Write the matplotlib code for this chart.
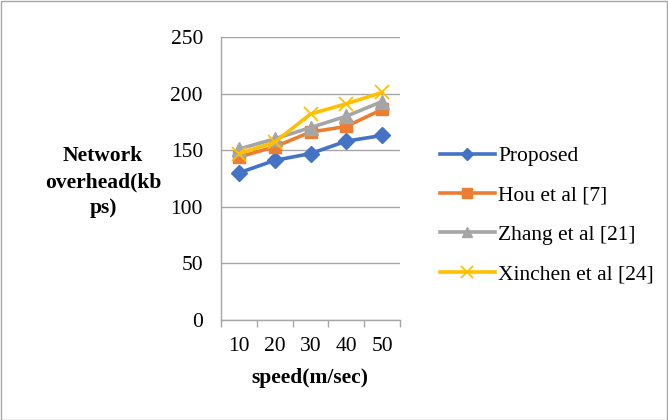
import matplotlib
matplotlib.use("Agg")
import matplotlib.pyplot as plt
from matplotlib.patches import Rectangle

categories = ["10", "20", "30", "40", "50"]
proposed = [130, 141, 147, 158, 163]
hou = [144, 153, 166, 171, 186]
zhang = [151, 160, 170, 180, 193]
xinchen = [147, 157, 182, 191, 201]
series_names = ["Proposed", "Hou et al [7]", "Zhang et al [21]", "Xinchen et al [24]"]
yticks = [0, 50, 100, 150, 200, 250]

plt.rcParams['font.family'] = ['Liberation Serif', 'DejaVu Serif']
FS = 15.5

fig = plt.figure(figsize=(6.68, 4.2), dpi=100)
W, H = 668, 420
ax = fig.add_axes([221 / W, 1 - 320 / H, (400 - 221) / W, (320 - 37) / H])

x = list(range(len(categories)))
styles = [
    (proposed, "#4472C4", "D", 8),
    (hou, "#ED7D31", "s", 8.5),
    (zhang, "#A5A5A5", "^", 9.5),
    (xinchen, "#FFC000", "x", 10),
]
handles = []
for (vals, col, mk, ms), name in zip(styles, series_names):
    ln, = ax.plot(x, vals, color=col, lw=2.6, marker=mk, markersize=ms,
                  markeredgewidth=1.3 if mk == "x" else 1, markeredgecolor=col,
                  markerfacecolor=col, label=name, zorder=3)
    handles.append(ln)

ax.set_xlim(-0.5, len(categories) - 0.5)
ax.set_ylim(0, 250)
ax.set_yticks(yticks)
ax.set_yticklabels([str(v) for v in yticks], fontsize=FS)
ax.set_xticks(x)
ax.set_xticklabels(categories, fontsize=FS)
ax.tick_params(axis='x', length=0, pad=12)
ax.set_xticks([i - 0.5 for i in range(len(categories) + 1)], minor=True)
ax.tick_params(axis='x', which='minor', length=5, color='#A6A6A6', width=1)
ax.tick_params(axis='y', length=0, pad=13)
ax.yaxis.grid(True, color='#A6A6A6', lw=1)
ax.set_axisbelow(True)
for s in ['top', 'right']:
    ax.spines[s].set_visible(False)
ax.spines['left'].set_color('#A6A6A6')
ax.spines['bottom'].set_color('#A6A6A6')
ax.spines['left'].set_linewidth(1)
ax.spines['bottom'].set_linewidth(1)

fig.text(103 / W, 1 - 182 / H, "Network\noverhead(kb\nps)", ha='center', va='center',
         fontsize=FS, fontweight='bold', linespacing=1.38)
fig.text(310 / W, 1 - 378 / H, "speed(m/sec)", ha='center', va='center',
         fontsize=FS, fontweight='bold')

leg = fig.legend(handles=handles, loc='upper left', bbox_to_anchor=(440 / W, 1 - 146 / H),
                 frameon=False, fontsize=FS, handlelength=2.55, handletextpad=0.15,
                 labelspacing=0.9, borderaxespad=0, borderpad=0, markerscale=0.8)

fig.patches.append(Rectangle((0.5 / W, 0.5 / H), 1 - 1.5 / W, 1 - 1.5 / H,
                             transform=fig.transFigure, fill=False,
                             edgecolor='#A6A6A6', lw=1))

fig.savefig("out.png", dpi=100)
